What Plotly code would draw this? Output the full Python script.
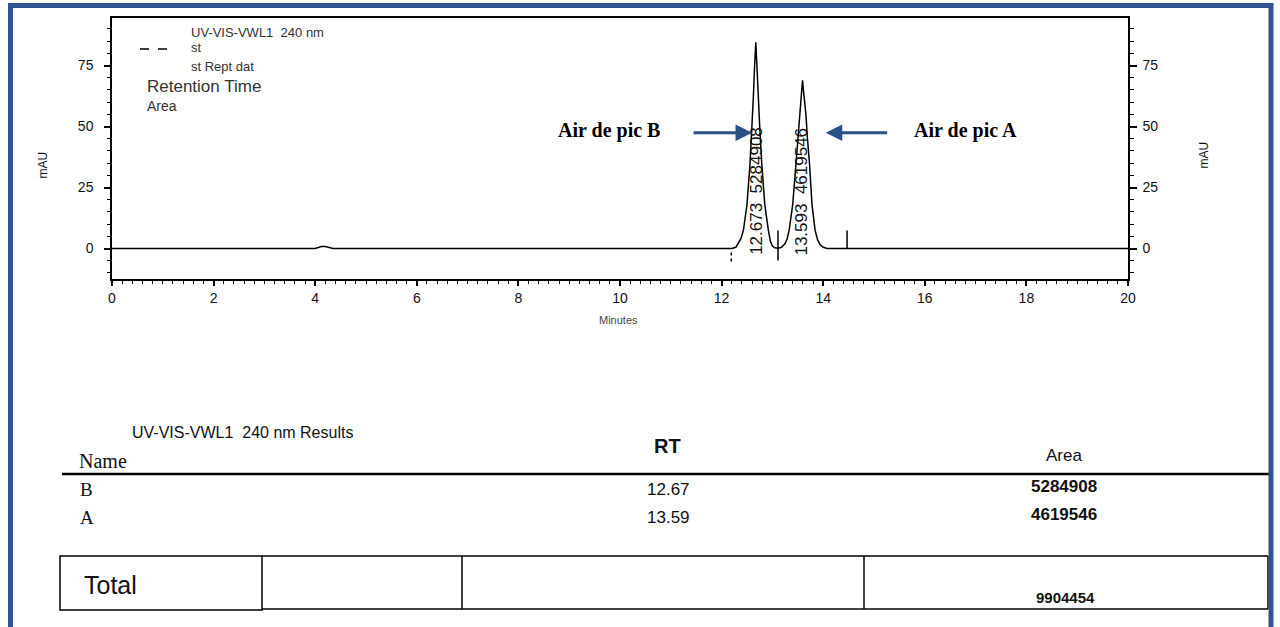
import plotly.graph_objects as go

W, H = 1280, 627

# ---------------- data ----------------
time_min = [0, 1, 2, 3, 4.0, 4.12, 4.2, 4.35, 6, 8, 10, 12.0, 12.2,
            12.28, 12.33, 12.38, 12.43, 12.50, 12.56, 12.60, 12.625, 12.65, 12.673,
            12.695, 12.72, 12.75, 12.79, 12.85, 12.92, 12.96, 13.00, 13.05, 13.11,
            13.18, 13.25, 13.29, 13.33, 13.40, 13.465, 13.50, 13.53, 13.565, 13.593,
            13.62, 13.66, 13.69, 13.73, 13.78, 13.84, 13.89, 13.94, 14.00, 14.08,
            16, 18, 20]
signal_mau = [0, 0, 0, 0, 0, 0.8, 0.8, 0, 0, 0, 0, 0, 0,
              0.5, 2, 4, 7.5, 18, 35, 50, 62, 75, 84.5,
              75, 62, 50, 35, 18, 7.5, 3, 1, 0.3, 0.1,
              0.5, 2, 4, 7.5, 18, 35, 45, 55, 63, 69,
              63, 55, 45, 35, 18, 7.5, 3.5, 1.5, 0.5, 0,
              0, 0, 0]

# integration marks (time, low, high in mAU)
mark_t = [12.19, 13.11, 14.47]
mark_lo = [-5.3, -4.9, 0.0]
mark_hi = [-0.8, 7.4, 7.4]

peak_names = ["B", "A"]
peak_rt = [12.673, 13.593]
peak_area = [5284908, 4619546]

x_ticks = [0, 2, 4, 6, 8, 10, 12, 14, 16, 18, 20]
y_ticks = [0, 25, 50, 75]

legend_lines = ["UV-VIS-VWL1  240 nm", "st", "st Rept dat", "Retention Time", "Area"]

# ---------------- helpers ----------------
def px(x):
    return x / W

def py(y):
    return 1 - y / H

BLUE = "#2E5591"
ARROW = "#2A5088"
INK = "#111111"

fig = go.Figure()
fig.add_trace(go.Scatter(x=time_min, y=signal_mau, mode="lines",
                         line=dict(color="black", width=1.5),
                         showlegend=False, hoverinfo="skip"))
fig.add_trace(go.Scatter(x=time_min, y=signal_mau, mode="lines", yaxis="y2",
                         line=dict(color="rgba(0,0,0,0)", width=0),
                         showlegend=False, hoverinfo="skip"))

shapes = []
for t, lo, hi in zip(mark_t, mark_lo, mark_hi):
    shapes.append(dict(type="line", xref="x", yref="y", x0=t, x1=t, y0=lo, y1=hi,
                       line=dict(color="black", width=1.5,
                                 dash="dot" if hi < 0 else "solid")))

annotations = []
# rotated peak labels
for rt, area, xc in zip(peak_rt, peak_area, [12.69, 13.57]):
    annotations.append(dict(x=xc, y=23.5, xref="x", yref="y",
                            text=f"{rt:.3f}  {area}", textangle=-90, showarrow=False,
                            xanchor="center", yanchor="middle",
                            font=dict(family="Liberation Sans", size=17, color=INK)))

# arrows
annotations.append(dict(x=12.6, y=47.5, xref="x", yref="y", ax=-60, ay=0,
                        axref="pixel", ayref="pixel", text="", showarrow=True,
                        arrowhead=2, arrowsize=1.1, arrowwidth=3, arrowcolor=ARROW))
annotations.append(dict(x=14.05, y=47.5, xref="x", yref="y", ax=63, ay=0,
                        axref="pixel", ayref="pixel", text="", showarrow=True,
                        arrowhead=2, arrowsize=1.1, arrowwidth=3, arrowcolor=ARROW))
annotations.append(dict(x=px(609), y=py(131), xref="paper", yref="paper",
                        text="<b>Air de pic B</b>", showarrow=False,
                        xanchor="center", yanchor="middle",
                        font=dict(family="Liberation Serif", size=20, color="black")))
annotations.append(dict(x=px(965), y=py(131), xref="paper", yref="paper",
                        text="<b>Air de pic A</b>", showarrow=False,
                        xanchor="center", yanchor="middle",
                        font=dict(family="Liberation Serif", size=20, color="black")))

# legend block top-left
leg_pos = [(189, 32, 13), (189, 48, 13), (189, 66, 13), (145, 86, 17), (145, 106, 14)]
for txt, (x, y, s) in zip(legend_lines, leg_pos):
    annotations.append(dict(x=px(x), y=py(y), xref="paper", yref="paper", text=txt,
                            showarrow=False, xanchor="left", yanchor="middle",
                            font=dict(family="Liberation Sans", size=s, color="#333")))
shapes.append(dict(type="line", xref="paper", yref="paper", x0=px(140), x1=px(176),
                   y0=py(49), y1=py(49), line=dict(color="black", width=1.5, dash="dash")))

# axis titles
annotations.append(dict(x=px(33), y=py(150), xref="paper", yref="paper", text="mAU",
                        textangle=-90, showarrow=False,
                        font=dict(family="Liberation Sans", size=12, color=INK)))
annotations.append(dict(x=px(1212), y=py(140), xref="paper", yref="paper", text="mAU",
                        textangle=-90, showarrow=False,
                        font=dict(family="Liberation Sans", size=12, color=INK)))
annotations.append(dict(x=px(618), y=py(320), xref="paper", yref="paper", text="Minutes",
                        showarrow=False,
                        font=dict(family="Liberation Sans", size=11, color="#444")))

# ---------------- results table ----------------
SANS = "Liberation Sans"
SERIF = "Liberation Serif"
annotations.append(dict(x=px(130), y=py(432), xref="paper", yref="paper",
                        text="UV-VIS-VWL1  240 nm Results", showarrow=False,
                        xanchor="left", yanchor="middle",
                        font=dict(family=SANS, size=16, color=INK)))
annotations.append(dict(x=px(77), y=py(461), xref="paper", yref="paper", text="Name",
                        showarrow=False, xanchor="left", yanchor="middle",
                        font=dict(family=SERIF, size=20, color=INK)))
annotations.append(dict(x=px(667), y=py(446), xref="paper", yref="paper", text="<b>RT</b>",
                        showarrow=False, xanchor="center", yanchor="middle",
                        font=dict(family=SANS, size=20, color=INK)))
annotations.append(dict(x=px(1064), y=py(455), xref="paper", yref="paper", text="Area",
                        showarrow=False, xanchor="center", yanchor="middle",
                        font=dict(family=SANS, size=17, color=INK)))
shapes.append(dict(type="line", xref="paper", yref="paper", x0=px(62), x1=px(1270),
                   y0=py(474), y1=py(474), line=dict(color="black", width=2.5)))

for name, rt, area, yrow in zip(peak_names, peak_rt, peak_area, [489, 517]):
    annotations.append(dict(x=px(78), y=py(yrow), xref="paper", yref="paper", text=name,
                            showarrow=False, xanchor="left", yanchor="middle",
                            font=dict(family=SERIF, size=19, color=INK)))
    annotations.append(dict(x=px(668), y=py(yrow), xref="paper", yref="paper",
                            text=f"{rt:.2f}", showarrow=False, xanchor="center",
                            yanchor="middle", font=dict(family=SANS, size=17, color=INK)))
    annotations.append(dict(x=px(1064), y=py(yrow - 3), xref="paper", yref="paper",
                            text=f"<b>{area}</b>", showarrow=False, xanchor="center",
                            yanchor="middle", font=dict(family=SANS, size=17, color=INK)))

total_area = sum(peak_area)
shapes.append(dict(type="rect", xref="paper", yref="paper", x0=px(60), x1=px(262),
                   y0=py(610), y1=py(556), line=dict(color="black", width=1.5)))
shapes.append(dict(type="line", xref="paper", yref="paper", x0=px(262), x1=px(1268),
                   y0=py(556), y1=py(556), line=dict(color="black", width=1.5)))
shapes.append(dict(type="line", xref="paper", yref="paper", x0=px(262), x1=px(1268),
                   y0=py(609), y1=py(609), line=dict(color="black", width=1.5)))
for xv in [462, 864, 1268]:
    shapes.append(dict(type="line", xref="paper", yref="paper", x0=px(xv), x1=px(xv),
                       y0=py(609), y1=py(556), line=dict(color="black", width=1.5)))
annotations.append(dict(x=px(82), y=py(585), xref="paper", yref="paper", text="Total",
                        showarrow=False, xanchor="left", yanchor="middle",
                        font=dict(family=SANS, size=25, color=INK)))
annotations.append(dict(x=px(1065), y=py(597), xref="paper", yref="paper",
                        text=f"<b>{total_area}</b>", showarrow=False, xanchor="center",
                        yanchor="middle", font=dict(family=SANS, size=15, color=INK)))

# blue frame
shapes.append(dict(type="rect", xref="paper", yref="paper", x0=px(10.5), x1=px(1271),
                   y0=-0.05, y1=py(5.5), line=dict(color=BLUE, width=5)))

tickfont = dict(family="Liberation Sans", size=14, color=INK)
ydom = [py(279), py(18)]
yrange = [-12.5, 94.5]

fig.update_layout(
    template="none",
    width=W, height=H, margin=dict(l=0, r=0, t=0, b=0, pad=0), autosize=False,
    paper_bgcolor="white", plot_bgcolor="white", showlegend=False,
    xaxis=dict(domain=[px(112), px(1128)], range=[0, 20], tickvals=x_ticks,
               automargin=False,
               ticks="outside", ticklen=5, tickwidth=1.5, tickcolor="black",
               minor=dict(dtick=0.2, ticks="outside", ticklen=3, tickwidth=1,
                          tickcolor="black"),
               showline=True, linecolor="black", linewidth=1.5, mirror=True,
               showgrid=False, zeroline=False, tickfont=tickfont),
    yaxis=dict(domain=ydom, range=yrange, tickvals=y_ticks, ticks="outside",
               automargin=False, ticklabelstandoff=8,
               ticklen=6, tickwidth=1.5, tickcolor="black",
               minor=dict(dtick=5, ticks="outside", ticklen=3, tickwidth=1,
                          tickcolor="black"),
               showline=True, linecolor="black", linewidth=1.5,
               showgrid=False, zeroline=False, tickfont=tickfont),
    yaxis2=dict(overlaying="y", side="right", anchor="x", range=yrange,
                automargin=False, ticklabelstandoff=3,
                tickvals=y_ticks, ticks="outside", ticklen=7, tickwidth=1.5,
                tickcolor="black",
                minor=dict(dtick=5, ticks="outside", ticklen=4, tickwidth=1,
                           tickcolor="black"),
                showline=True, linecolor="black", linewidth=1.5,
                showgrid=False, zeroline=False, tickfont=tickfont),
    shapes=shapes, annotations=annotations,
)

fig.write_html("out.html")
